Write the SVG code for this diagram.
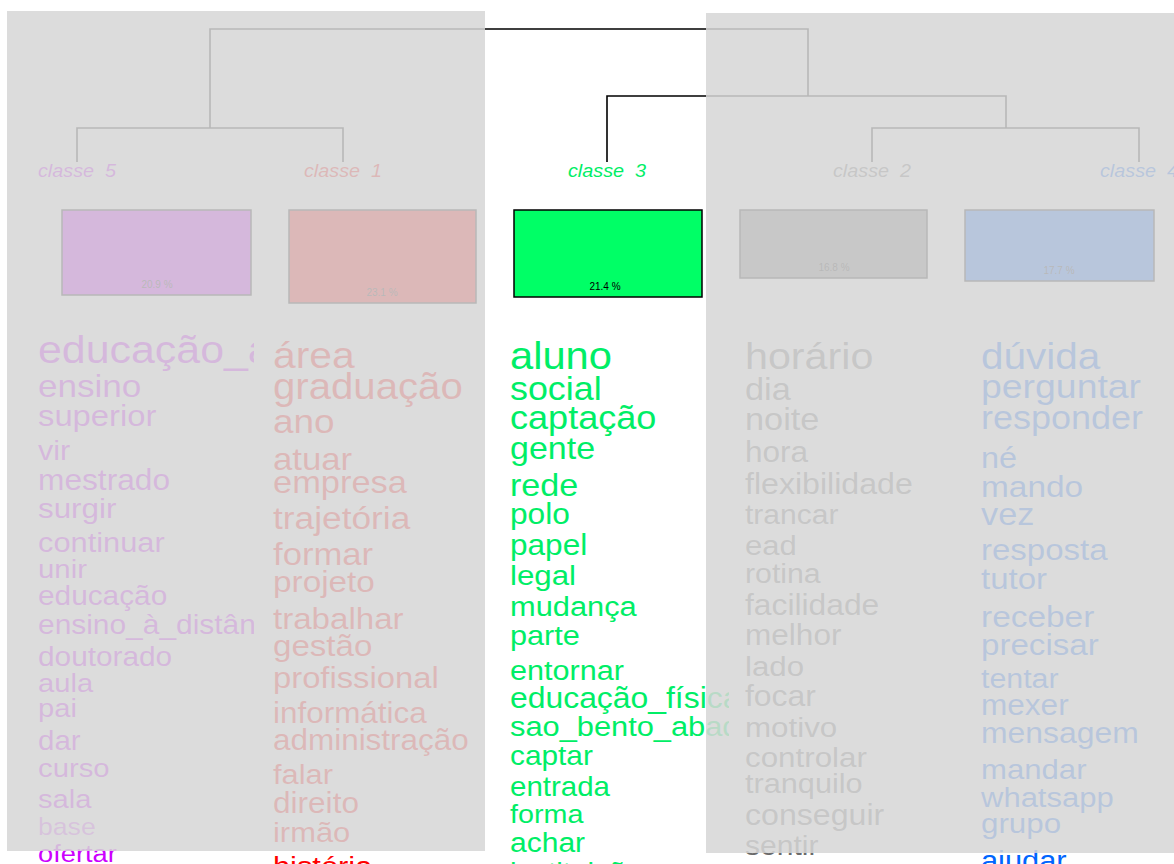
<svg xmlns="http://www.w3.org/2000/svg" width="1174" height="864" viewBox="0 0 1174 864">
<style>
text{font-family:"Liberation Sans",Arial,sans-serif}
.lbl{font-size:18px;font-style:italic;text-anchor:middle;word-spacing:5px}
.pct{font-size:10px;text-anchor:middle;fill:#000}
.box{stroke:#000;stroke-width:1.5}
.ln{stroke:#000;stroke-width:1.6;fill:none}
.k5{fill:#cc00ff}.k1{fill:#ff0000}.k3{fill:#00ee66}.k2{fill:#6a6a6a}.k4{fill:#0066ff}
.ov{fill:#d6d6d6;fill-opacity:0.86}
</style>
<defs>
<clipPath id="clip5"><rect x="0" y="300" width="254" height="564"/></clipPath>
<clipPath id="clip3"><rect x="500" y="300" width="229" height="564"/></clipPath>
</defs>
<rect x="0" y="0" width="1174" height="864" fill="#fff"/>
<g id="connectors">
<polyline class="ln" points="210,128 210,29 808,29 808,96"/>
<polyline class="ln" points="77,162 77,128 343,128 343,162"/>
<polyline class="ln" points="607,162 607,96 1006,96 1006,128"/>
<polyline class="ln" points="872,162 872,128 1139,128 1139,162"/>
</g>
<g id="classe5">
<text class="lbl k5" transform="translate(77 177) scale(1.1 1)">classe 5</text>
<rect class="box" x="62" y="210" width="189" height="85" fill="#cc00ff"/>
<text class="pct" x="157" y="288">20.9 %</text>
<g clip-path="url(#clip5)"><g class="k5" transform="translate(38 0) scale(1.1 1)">
<text y="363" font-size="39">educação_a_distância</text>
<text y="397" font-size="31.9">ensino</text>
<text y="426" font-size="29.8">superior</text>
<text y="460" font-size="27.8">vir</text>
<text y="490" font-size="28.8">mestrado</text>
<text y="518" font-size="28.5">surgir</text>
<text y="552" font-size="28">continuar</text>
<text y="578" font-size="26.7">unir</text>
<text y="605" font-size="27.1">educação</text>
<text y="634" font-size="27.2">ensino_à_distância</text>
<text y="666" font-size="27.1">doutorado</text>
<text y="692" font-size="26.5">aula</text>
<text y="717" font-size="26.5">pai</text>
<text y="750" font-size="26.8">dar</text>
<text y="777" font-size="26.6">curso</text>
<text y="808" font-size="26.5">sala</text>
<text y="835" font-size="24.2" fill-opacity="0.7">base</text>
<text y="862" font-size="24.8">ofertar</text>
</g></g>
</g>
<g id="classe1">
<text class="lbl k1" transform="translate(343 177) scale(1.1 1)">classe 1</text>
<rect class="box" x="289" y="210" width="187" height="93" fill="#ff0000"/>
<text class="pct" x="382" y="296">23.1 %</text>
<g class="k1" transform="translate(273 0) scale(1.1 1)">
<text y="368" font-size="37.1">área</text>
<text y="399" font-size="36.5">graduação</text>
<text y="433" font-size="33.6">ano</text>
<text y="470" font-size="31.6">atuar</text>
<text y="493" font-size="31.3">empresa</text>
<text y="529" font-size="32.1">trajetória</text>
<text y="565" font-size="31.5">formar</text>
<text y="592" font-size="30.3">projeto</text>
<text y="629" font-size="30.1">trabalhar</text>
<text y="656" font-size="30.1">gestão</text>
<text y="688" font-size="29.8">profissional</text>
<text y="723" font-size="28.6">informática</text>
<text y="750" font-size="28.6">administração</text>
<text y="784" font-size="28">falar</text>
<text y="813" font-size="28.7">direito</text>
<text y="842" font-size="28.1">irmão</text>
<text y="876" font-size="28">história</text>
</g>
</g>
<g id="classe3">
<text class="lbl k3" transform="translate(607 177) scale(1.1 1)">classe 3</text>
<rect class="box" x="514" y="210" width="188" height="87" fill="#00ff66"/>
<text class="pct" x="605" y="290">21.4 %</text>
<g clip-path="url(#clip3)"><g class="k3" transform="translate(510 0) scale(1.1 1)">
<text y="369" font-size="37.9">aluno</text>
<text y="400" font-size="32.6">social</text>
<text y="429" font-size="32.8">captação</text>
<text y="459" font-size="30.9">gente</text>
<text y="496" font-size="31">rede</text>
<text y="524" font-size="28.8">polo</text>
<text y="555" font-size="28.7">papel</text>
<text y="585" font-size="28.4">legal</text>
<text y="616" font-size="28">mudança</text>
<text y="645" font-size="27.9">parte</text>
<text y="680" font-size="27.8">entornar</text>
<text y="708" font-size="29">educação_física</text>
<text y="736" font-size="28">sao_bento_abade</text>
<text y="765" font-size="27.1">captar</text>
<text y="796" font-size="26.8">entrada</text>
<text y="823" font-size="26.1">forma</text>
<text y="852" font-size="27.3">achar</text>
<text y="882" font-size="27">instituição</text>
</g></g>
</g>
<g id="classe2">
<text class="lbl k2" transform="translate(872 177) scale(1.1 1)">classe 2</text>
<rect class="box" x="740" y="210" width="187" height="68" fill="#737373"/>
<text class="pct" x="834" y="271">16.8 %</text>
<g class="k2" transform="translate(745 0) scale(1.1 1)">
<text y="369" font-size="37.5">horário</text>
<text y="400" font-size="31.2">dia</text>
<text y="430" font-size="31.2">noite</text>
<text y="462" font-size="28.7">hora</text>
<text y="494" font-size="29.2">flexibilidade</text>
<text y="524" font-size="27.3">trancar</text>
<text y="555" font-size="28.2">ead</text>
<text y="583" font-size="27.5">rotina</text>
<text y="615" font-size="28.9">facilidade</text>
<text y="645" font-size="28.7">melhor</text>
<text y="676" font-size="28.4">lado</text>
<text y="706" font-size="29">focar</text>
<text y="737" font-size="28.5">motivo</text>
<text y="767" font-size="28.5">controlar</text>
<text y="793" font-size="27.9">tranquilo</text>
<text y="825" font-size="29.2">conseguir</text>
<text y="855" font-size="27.3">sentir</text>
</g>
</g>
<g id="classe4">
<text class="lbl k4" transform="translate(1139 177) scale(1.1 1)">classe 4</text>
<rect class="box" x="965" y="210" width="189" height="71" fill="#0066ff"/>
<text class="pct" x="1059" y="274">17.7 %</text>
<g class="k4" transform="translate(981 0) scale(1.1 1)">
<text y="369" font-size="36.8">dúvida</text>
<text y="398" font-size="34">perguntar</text>
<text y="429" font-size="32.7">responder</text>
<text y="468" font-size="29.5">né</text>
<text y="497" font-size="30.4">mando</text>
<text y="525" font-size="31.2">vez</text>
<text y="560" font-size="30">resposta</text>
<text y="589" font-size="30">tutor</text>
<text y="627" font-size="30.4">receber</text>
<text y="655" font-size="30.1">precisar</text>
<text y="688" font-size="27.6">tentar</text>
<text y="715" font-size="28.7">mexer</text>
<text y="743" font-size="29">mensagem</text>
<text y="779" font-size="28.3">mandar</text>
<text y="807" font-size="28.2">whatsapp</text>
<text y="833" font-size="28.5">grupo</text>
<text y="870" font-size="28">ajudar</text>
</g>
</g>
<g id="overlays">
<rect class="ov" x="7" y="11" width="478" height="840"/>
<rect class="ov" x="706" y="13" width="468" height="840"/>
</g>
</svg>
